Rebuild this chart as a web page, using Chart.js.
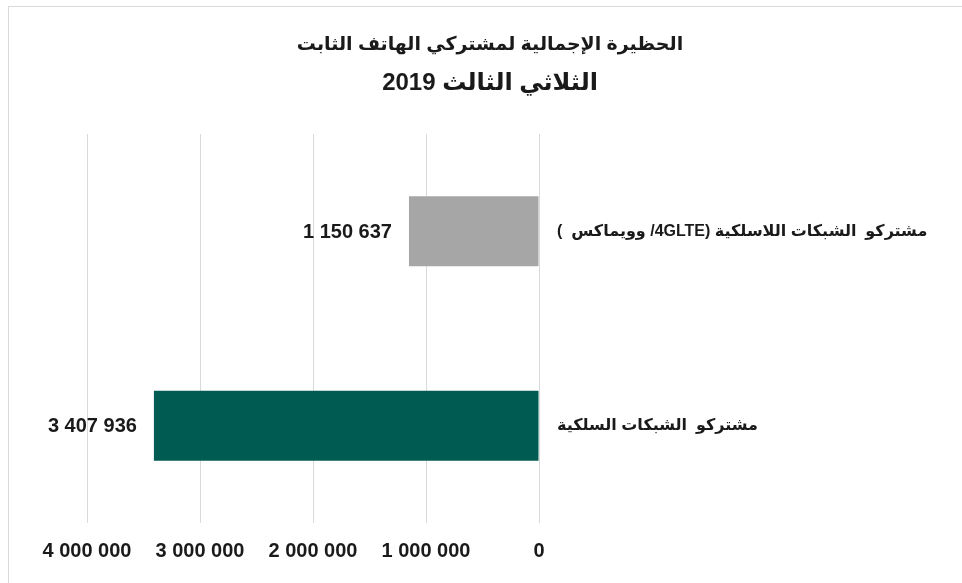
<!DOCTYPE html>
<html>
<head>
<meta charset="utf-8">
<script src="https://cdn.jsdelivr.net/npm/chart.js@4/dist/chart.umd.min.js"></script>
<style>
  html, body { margin: 0; padding: 0; background: #fff; }
  #wrap {
    position: absolute; left: 0; top: 0; width: 962px; height: 583px;
  }
  #frame {
    position: absolute; left: 8px; top: 6px; right: 0; bottom: 0;
    border-top: 1px solid #d9d9d9; border-left: 1px solid #d9d9d9;
    pointer-events: none;
  }
</style>
</head>
<body>
<div id="wrap">
  <canvas id="chart" width="962" height="583"></canvas>
  <div id="frame"></div>
</div>
<script>
// RTL embedding marks for Arabic strings
const RLE = "\u202B", PDF = "\u202C";

const titleLines = [
  "الحظيرة الإجمالية لمشتركي الهاتف الثابت",
  "الثلاثي الثالث 2019"
];
const categories = [
  "مشتركو  الشبكات اللاسلكية (4GLTE/ وويماكس  )",
  "مشتركو  الشبكات السلكية"
];
const subscribers = [1150637, 3407936];
const barColors = ["#a6a6a6", "#005c53"];
const tickValues = [0, 1000000, 2000000, 3000000, 4000000];

const fmt = (v) => String(Math.round(v)).replace(/\B(?=(\d{3})+(?!\d))/g, " ");
const TITLE_FONT = "'Liberation Sans', Arial, 'DejaVu Sans', sans-serif";

// two-line title, each line with its own size
const titleBlock = {
  id: "titleBlock",
  afterDraw(chart) {
    const ctx = chart.ctx;
    ctx.save();
    ctx.direction = "rtl";
    ctx.textAlign = "center";
    ctx.textBaseline = "middle";
    ctx.fillStyle = "#1a1a1a";
    ctx.font = "bold 19px " + TITLE_FONT;
    ctx.fillText(titleLines[0], 490, 45);
    ctx.font = "bold 24px " + TITLE_FONT;
    ctx.fillText(titleLines[1], 490, 83);
    ctx.restore();
  }
};

// draw the values at the end of each bar
const valueLabels = {
  id: "valueLabels",
  afterDatasetsDraw(chart) {
    const ctx = chart.ctx;
    const meta = chart.getDatasetMeta(0);
    ctx.save();
    ctx.font = "bold 20px 'Liberation Sans Narrow', 'Liberation Sans', Arial, sans-serif";
    ctx.fillStyle = "#1a1a1a";
    ctx.textAlign = "right";
    ctx.textBaseline = "middle";
    meta.data.forEach((bar, i) => {
      ctx.fillText(fmt(subscribers[i]), bar.x - 17, bar.y + 1);
    });
    ctx.restore();
  }
};

new Chart(document.getElementById("chart"), {
  type: "bar",
  data: {
    labels: categories.map((c) => RLE + c + PDF),
    datasets: [{
      data: subscribers,
      backgroundColor: barColors,
      borderWidth: 0,
      categoryPercentage: 1,
      barPercentage: 0.36
    }]
  },
  options: {
    indexAxis: "y",
    responsive: false,
    animation: false,
    devicePixelRatio: 1,
    layout: { padding: { left: 87, right: 0, top: 134, bottom: 4 } },
    plugins: {
      legend: { display: false },
      tooltip: { enabled: false },
      title: { display: false }
    },
    scales: {
      x: {
        reverse: true,
        min: 0,
        max: 4000000,
        afterBuildTicks: (scale) => { scale.ticks = tickValues.map((v) => ({ value: v })); },
        grid: { color: "#d9d9d9", drawTicks: false },
        border: { display: false },
        ticks: {
          padding: 16,
          color: "#1a1a1a",
          maxRotation: 0,
          font: { family: "'Liberation Sans Narrow', 'Liberation Sans', Arial, sans-serif", size: 20, weight: "bold" },
          callback: (v) => fmt(v)
        }
      },
      y: {
        position: "right",
        afterFit: (scale) => { scale.width = 423; },
        grid: { display: false, drawTicks: false },
        border: { display: false },
        ticks: {
          padding: 18,
          color: "#1a1a1a",
          font: { family: "'Liberation Sans', Arial, 'DejaVu Sans', sans-serif", size: 16, weight: "bold" }
        }
      }
    }
  },
  plugins: [valueLabels, titleBlock]
});
</script>
</body>
</html>
